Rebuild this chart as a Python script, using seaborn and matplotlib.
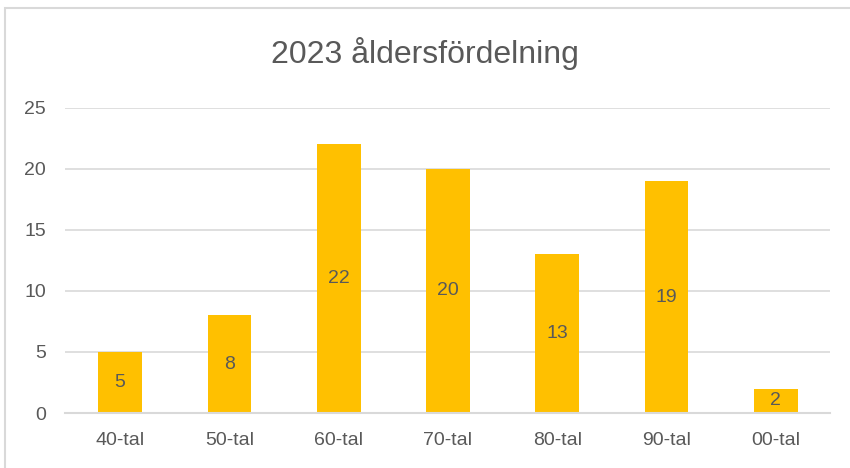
import seaborn as sns
import pandas as pd
import matplotlib.pyplot as plt
from matplotlib.patches import Rectangle

# data
categories = ["40-tal", "50-tal", "60-tal", "70-tal", "80-tal", "90-tal", "00-tal"]
counts = [5, 8, 22, 20, 13, 19, 2]
y_ticks = [0, 5, 10, 15, 20, 25]

df = pd.DataFrame({"Decennium": categories, "Antal": counts})

sns.set_style("white")
plt.rcParams["font.family"] = ["Liberation Sans", "DejaVu Sans"]

text_color = "#595959"
bar_color = "#FFC000"
grid_color = "#D9D9D9"

fig = plt.figure(figsize=(8.5, 4.68), dpi=100)
ax = fig.add_axes([0.077, 0.1175, 0.9, 0.652])

sns.barplot(
    data=df,
    x="Decennium",
    y="Antal",
    color=bar_color,
    saturation=1,
    width=0.4,
    linewidth=0,
    ax=ax
)

for i, v in enumerate(counts):
    ax.text(i, v / 2, str(v), ha="center", va="center",
            fontsize=14, color=text_color)

ax.set_ylim(0, 25)
ax.set_xlim(-0.5, len(categories) - 0.5)
ax.set_yticks(y_ticks)
ax.yaxis.grid(True, color=grid_color, linewidth=1.2)
ax.set_axisbelow(True)
for side in ["left", "right", "top"]:
    ax.spines[side].set_visible(False)
ax.spines["bottom"].set_color(grid_color)
ax.spines["bottom"].set_linewidth(1.5)

ax.tick_params(axis="both", length=0, labelsize=14, labelcolor=text_color)
ax.tick_params(axis="y", pad=14)
ax.tick_params(axis="x", pad=14)
ax.set_xlabel("")
ax.set_ylabel("")

fig.text(0.5, 0.885, "2023 åldersfördelning", ha="center", va="center",
         fontsize=23, color=text_color)

# chart border
fig.patches.append(Rectangle((5 / 850, -0.05), 1.0, 1 - 8 / 468 + 0.05,
                             transform=fig.transFigure, fill=False,
                             edgecolor=grid_color, linewidth=1.5))

plt.savefig("out.png", dpi=100)
